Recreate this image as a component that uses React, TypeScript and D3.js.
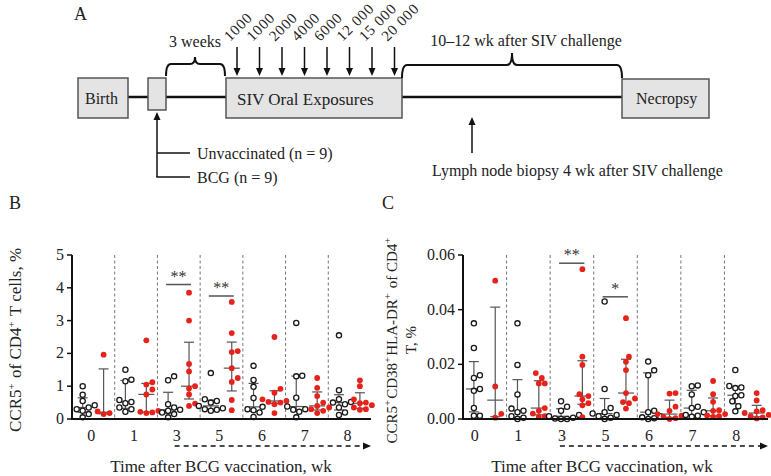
import React from "react";
import * as d3 from "d3";

const timepoints = ["0", "1", "3", "5", "6", "7", "8"];
const doseLabels = ["1000", "1000", "2000", "4000", "6000", "12 000", "15 000", "20 000"];

// Panel B: CCR5+ of CD4+ T cells, %
const bUnvacc: number[][] = [
  [0.05, 0.15, 0.25, 0.3, 0.35, 0.42, 0.55, 0.74, 1.0],
  [0.22, 0.3, 0.35, 0.48, 0.52, 0.58, 1.15, 1.2, 1.5],
  [0.05, 0.15, 0.2, 0.25, 0.28, 0.35, 0.45, 1.18, 1.3],
  [0.25, 0.28, 0.3, 0.33, 0.4, 0.5, 0.55, 0.6, 1.4],
  [0.06, 0.2, 0.27, 0.3, 0.37, 0.64, 0.98, 1.19, 1.62],
  [0.05, 0.22, 0.28, 0.3, 0.38, 0.65, 1.3, 1.32, 2.93],
  [0.12, 0.2, 0.35, 0.45, 0.5, 0.52, 0.6, 0.88, 2.55],
];
const bBcg: number[][] = [
  [0.15, 0.18, 0.23, 1.96],
  [0.18, 0.2, 0.22, 0.25, 0.75, 0.9, 1.05, 1.12, 2.4],
  [0.4, 0.47, 0.75, 0.93, 1.0, 1.45, 1.68, 3.0, 3.85],
  [0.27, 0.58, 1.13, 1.25, 1.55, 2.04, 2.07, 2.62, 3.57],
  [0.18, 0.45, 0.5, 0.52, 0.55, 0.6, 0.8, 0.92, 2.5],
  [0.18, 0.25, 0.3, 0.35, 0.4, 0.5, 0.7, 0.95, 1.25],
  [0.28, 0.3, 0.35, 0.42, 0.48, 0.5, 0.6, 1.0, 1.18],
];
const bTicks = [0, 1, 2, 3, 4, 5];
const bSig = [
  { group: "3", label: "**", value: 4.1 },
  { group: "5", label: "**", value: 3.75 },
];

// Panel C: CCR5+CD38+HLA-DR+ of CD4+ T, %
const cUnvacc: number[][] = [
  [0.0012, 0.0012, 0.004, 0.0103, 0.011, 0.015, 0.016, 0.026, 0.035],
  [0, 0.0005, 0.001, 0.0025, 0.003, 0.0038, 0.009, 0.0198, 0.035],
  [0, 0, 0.0002, 0.0005, 0.001, 0.0015, 0.003, 0.0045, 0.0065],
  [0, 0.0005, 0.001, 0.0015, 0.002, 0.0025, 0.004, 0.011, 0.043],
  [0, 0.0003, 0.0006, 0.001, 0.0025, 0.003, 0.016, 0.0178, 0.021],
  [0.0008, 0.0012, 0.0015, 0.0025, 0.004, 0.0045, 0.009, 0.012, 0.0123],
  [0.0028, 0.0047, 0.0065, 0.0084, 0.0087, 0.0113, 0.0115, 0.0121, 0.0179],
];
const cBcg: number[][] = [
  [0.0005, 0.0019, 0.0119, 0.0506],
  [0.0008, 0.001, 0.002, 0.003, 0.004, 0.013, 0.013, 0.015, 0.0168],
  [0.0007, 0.005, 0.0058, 0.0072, 0.0084, 0.0091, 0.0198, 0.0228, 0.0548],
  [0.0038, 0.0058, 0.0062, 0.0075, 0.0095, 0.0179, 0.0209, 0.0228, 0.0369],
  [0, 0.0003, 0.0008, 0.0012, 0.0018, 0.003, 0.0045, 0.0093, 0.0095],
  [0.0008, 0.001, 0.0013, 0.0018, 0.003, 0.0032, 0.0063, 0.0091, 0.0139],
  [0.0002, 0.0006, 0.001, 0.0015, 0.0022, 0.0028, 0.0032, 0.0068, 0.0095],
];
const cTicks = [0, 0.02, 0.04, 0.06];
const cSig = [
  { group: "3", label: "**", value: 0.057 },
  { group: "5", label: "*", value: 0.0447 },
];

const FONT = "'Liberation Serif', 'Times New Roman', serif";
const RED = "#e5231b";
const BAR = "#555";

function pq(sorted: number[], p: number) {
  const n = sorted.length;
  const pos = (n + 1) * p;
  if (pos <= 1) return sorted[0];
  if (pos >= n) return sorted[n - 1];
  const lo = Math.floor(pos);
  const f = pos - lo;
  return sorted[lo - 1] + f * (sorted[lo] - sorted[lo - 1]);
}

function swarm(vals: number[], y: (v: number) => number, r: number) {
  const pts = vals.map((v) => ({ v, py: y(v), dx: 0 })).sort((a, b) => b.py - a.py);
  const placed: { py: number; dx: number }[] = [];
  const step = r + 0.4;
  const minD = 2 * r + 0.6;
  for (const p of pts) {
    for (let k = 0; k < 20; k++) {
      const off = k === 0 ? 0 : (k % 2 === 1 ? 1 : -1) * Math.ceil(k / 2) * step;
      const ok = placed.every((q) => Math.hypot(q.dx - off, q.py - p.py) >= minD);
      if (ok) {
        p.dx = off;
        break;
      }
    }
    placed.push(p);
  }
  return pts;
}

function Sup({ children }: { children: string }) {
  return (
    <>
      <tspan dy={-6} fontSize={10.5}>{children}</tspan>
      <tspan dy={6}>{"\u200A"}</tspan>
    </>
  );
}

type PanelProps = {
  unvacc: number[][];
  bcg: number[][];
  domain: [number, number];
  ticks: number[];
  fmt: (v: number) => string;
  x0: number;
  x1: number;
  labelFrac: number;
  sigs: { group: string; label: string; value: number }[];
  xTitleX: number;
};

function Panel({ unvacc, bcg, domain, ticks, fmt, x0, x1, labelFrac, sigs, xTitleX }: PanelProps) {
  const yTop = 255;
  const yBot = 419;
  const x = d3.scaleBand<string>().domain(timepoints).range([x0, x1]).paddingInner(0).paddingOuter(0);
  const y = d3.scaleLinear().domain(domain).range([yBot, yTop]);
  const bw = x.bandwidth();
  const bFrac = 0.25;
  const rFrac = 0.74;
  const r = 2.6;

  const groups = timepoints.map((t, i) => {
    const cols = [
      { vals: unvacc[i], cx: (x(t) as number) + bw * bFrac, kind: "u" },
      { vals: bcg[i], cx: (x(t) as number) + bw * rFrac, kind: "b" },
    ];
    return { t, i, cols };
  });

  return (
    <g fontFamily={FONT}>
      {timepoints.slice(1).map((t) => (
        <line key={"s" + t} x1={x(t)} x2={x(t)} y1={yTop} y2={yBot} stroke="#777" strokeWidth={1} strokeDasharray="3,2.5" />
      ))}
      {groups.map((g) =>
        g.cols.map((c) => {
          const s = [...c.vals].sort((a, b) => a - b);
          const q1 = pq(s, 0.25), md = pq(s, 0.5), q3 = pq(s, 0.75);
          return (
            <g key={g.t + c.kind} stroke={BAR} strokeWidth={1.2}>
              <line x1={c.cx} x2={c.cx} y1={y(q1)} y2={y(q3)} />
              <line x1={c.cx - 5} x2={c.cx + 5} y1={y(q1)} y2={y(q1)} />
              <line x1={c.cx - 5} x2={c.cx + 5} y1={y(q3)} y2={y(q3)} />
              <line x1={c.cx - 8} x2={c.cx + 8} y1={y(md)} y2={y(md)} />
            </g>
          );
        })
      )}
      {groups.map((g) =>
        g.cols.map((c) =>
          swarm(c.vals, y, r).map((p, k) =>
            c.kind === "u" ? (
              <circle key={g.t + c.kind + k} cx={c.cx + p.dx} cy={p.py} r={r} fill="white" stroke="#1a1a1a" strokeWidth={1.3} />
            ) : (
              <circle key={g.t + c.kind + k} cx={c.cx + p.dx} cy={p.py} r={r + 0.3} fill={RED} />
            )
          )
        )
      )}
      {sigs.map((s) => {
        const bx = (x(s.group) as number) + bw * bFrac;
        const rx = (x(s.group) as number) + bw * rFrac;
        return (
          <g key={"sig" + s.group}>
            <line x1={bx - 2} x2={rx + 2} y1={y(s.value)} y2={y(s.value)} stroke={BAR} strokeWidth={1.5} />
            <text x={(bx + rx) / 2} y={y(s.value) - 3} textAnchor="middle" fontSize={16} fill="#333">{s.label}</text>
          </g>
        );
      })}
      <line x1={x0} x2={x0} y1={yTop} y2={yBot + 1} stroke="#111" strokeWidth={2} />
      <line x1={x0 - 1} x2={x1} y1={yBot} y2={yBot} stroke="#111" strokeWidth={2} />
      {ticks.map((t) => (
        <g key={"yt" + t}>
          <line x1={x0 - 5} x2={x0} y1={y(t)} y2={y(t)} stroke="#111" strokeWidth={1.5} />
          <text x={x0 - 8} y={y(t) + 5} textAnchor="end" fontSize={16} fill="#222">{fmt(t)}</text>
        </g>
      ))}
      {timepoints.map((t) => (
        <text key={"xt" + t} x={(x(t) as number) + bw * labelFrac} y={441} textAnchor="middle" fontSize={16} fill="#222">{t}</text>
      ))}
      <line x1={(x("3") as number) + bw * labelFrac - 2} x2={x1 - 6} y1={446} y2={446} stroke="#111" strokeWidth={1.4} strokeDasharray="5,4" />
      <path d={`M${x1},446 L${x1 - 8},442.5 L${x1 - 8},449.5 Z`} fill="#111" />
      <text x={xTitleX} y={472} textAnchor="middle" fontSize={17} fill="#222">Time after BCG vaccination, wk</text>
    </g>
  );
}

function Brace({ x1, x2, mid, yb, yt, yp }: { x1: number; x2: number; mid: number; yb: number; yt: number; yp: number }) {
  const r = 5;
  const d = `M${x1},${yb} Q${x1},${yt} ${x1 + r},${yt} L${mid - r},${yt} Q${mid},${yt} ${mid},${yp} Q${mid},${yt} ${mid + r},${yt} L${x2 - r},${yt} Q${x2},${yt} ${x2},${yb}`;
  return <path d={d} fill="none" stroke="#111" strokeWidth={2} />;
}

function PanelA() {
  const doseX = doseLabels.map((_, i) => 237 + i * 22.5);
  return (
    <g fontFamily={FONT} fill="#222">
      <text x={74} y={20} fontSize={18}>A</text>
      <line x1={128} x2={148} y1={97} y2={97} stroke="#111" strokeWidth={2.5} />
      <line x1={166} x2={226} y1={97} y2={97} stroke="#111" strokeWidth={2.5} />
      <line x1={402} x2={622} y1={97} y2={97} stroke="#111" strokeWidth={2.5} />
      <rect x={78} y={78} width={50} height={40} fill="#e4e4e4" stroke="#555" strokeWidth={1.5} />
      <text x={85} y={104} fontSize={16}>Birth</text>
      <rect x={148} y={78} width={18} height={32} fill="#e4e4e4" stroke="#555" strokeWidth={1.5} />
      <rect x={226} y={78} width={176} height={40} fill="#e4e4e4" stroke="#555" strokeWidth={1.5} />
      <text x={237} y={105} fontSize={17}>SIV Oral Exposures</text>
      <rect x={622} y={79} width={87} height={39} fill="#e4e4e4" stroke="#555" strokeWidth={1.5} />
      <text x={636} y={104} fontSize={16}>Necropsy</text>
      <Brace x1={166} x2={225} mid={195} yb={76} yt={64} yp={57} />
      <text x={195} y={47} fontSize={16} textAnchor="middle">3 weeks</text>
      <Brace x1={402} x2={622} mid={512} yb={78} yt={65} yp={53} />
      <text x={526} y={46} fontSize={16} textAnchor="middle">10–12 wk after SIV challenge</text>
      {doseX.map((dx, i) => (
        <g key={"d" + i}>
          <line x1={dx} x2={dx} y1={47} y2={70} stroke="#111" strokeWidth={1.5} />
          <path d={`M${dx - 3.5},68 L${dx + 3.5},68 L${dx},76 Z`} fill="#111" />
          <text transform={`translate(${dx - 7},42) rotate(-45)`} fontSize={15} letterSpacing={0.8}>{doseLabels[i]}</text>
        </g>
      ))}
      <line x1={157} x2={157} y1={119} y2={177} stroke="#111" strokeWidth={1.5} />
      <path d={`M153.5,120 L160.5,120 L157,112 Z`} fill="#111" />
      <line x1={157} x2={190} y1={153} y2={153} stroke="#111" strokeWidth={1.5} />
      <line x1={156.3} x2={190} y1={177} y2={177} stroke="#111" strokeWidth={1.5} />
      <text x={197} y={159} fontSize={16}>Unvaccinated (n = 9)</text>
      <text x={197} y={183} fontSize={16}>BCG (n = 9)</text>
      <line x1={472} x2={472} y1={124} y2={153} stroke="#111" strokeWidth={1.5} />
      <path d={`M468.5,125 L475.5,125 L472,117 Z`} fill="#111" />
      <text x={432} y={176} fontSize={16}>Lymph node biopsy 4 wk after SIV challenge</text>
    </g>
  );
}

export default function App() {
  return (
    <svg width={771} height={476} style={{ position: "absolute", left: 0, top: 0, background: "white" }}>
      <rect width={771} height={476} fill="white" />
      <PanelA />
      <text x={9} y={209} fontSize={18} fontFamily={FONT} fill="#222">B</text>
      <text x={382} y={209} fontSize={18} fontFamily={FONT} fill="#222">C</text>
      <Panel
        unvacc={bUnvacc}
        bcg={bBcg}
        domain={[0, 5]}
        ticks={bTicks}
        fmt={d3.format("d")}
        x0={72}
        x1={371}
        labelFrac={0.45}
        sigs={bSig}
        xTitleX={221}
      />
      <Panel
        unvacc={cUnvacc}
        bcg={cBcg}
        domain={[0, 0.06]}
        ticks={cTicks}
        fmt={d3.format(".2f")}
        x0={463}
        x1={768}
        labelFrac={0.27}
        sigs={cSig}
        xTitleX={602}
      />
      <text transform="translate(21,340) rotate(-90)" textAnchor="middle" fontSize={17} fontFamily={FONT} fill="#222">
        CCR5<Sup>+</Sup> of CD4<Sup>+</Sup> T cells, %
      </text>
      <text transform="translate(397,340) rotate(-90)" textAnchor="middle" fontSize={15} fontFamily={FONT} fill="#222">
        CCR5<Sup>+</Sup>CD38<Sup>+</Sup>HLA-DR<Sup>+</Sup> of CD4<Sup>+</Sup>
      </text>
      <text transform="translate(416,340) rotate(-90)" textAnchor="middle" fontSize={15} fontFamily={FONT} fill="#222">
        T, %
      </text>
    </svg>
  );
}
